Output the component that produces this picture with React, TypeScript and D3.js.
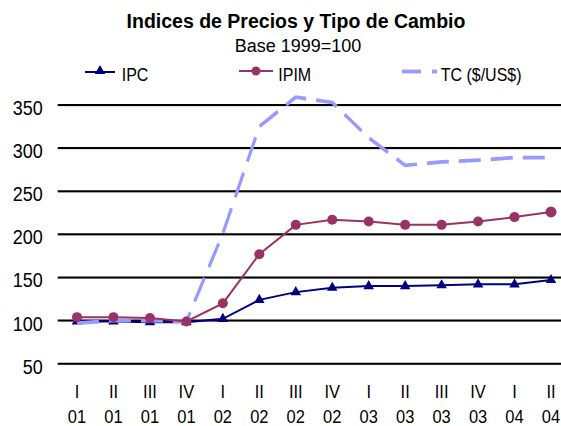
import React from "react";
import * as d3 from "d3";

const quarters = ["I", "II", "III", "IV", "I", "II", "III", "IV", "I", "II", "III", "IV", "I", "II"];
const years = ["01", "01", "01", "01", "02", "02", "02", "02", "03", "03", "03", "03", "04", "04"];
const ipc = [99, 99, 98, 98, 102, 124, 133, 138, 140, 140, 141, 142, 142, 147];
const ipim = [104, 104, 103, 99, 120, 177, 211, 217, 215, 211, 211, 215, 220, 226];
const tc = [97, 100, 100, 99, 201, 325, 359, 353, 312, 280, 284, 286, 289, 289];
const yTicks = [50, 100, 150, 200, 250, 300, 350];

const W = 561;
const H = 426;
const FONT = "'Liberation Sans', Arial, sans-serif";
const NAVY = "#000080";
const PLUM = "#993366";
const LAV = "#9999FF";

export default function App() {
  const idx = quarters.map((_, i) => i);
  const x = d3.scalePoint<number>().domain(idx).range([77, 551]);
  const y = d3.scaleLinear().domain([50, 350]).range([363.7, 105]);
  const k = 1.2;
  const yk = d3.scaleLinear().domain([50, 350]).range([363.7 / k, 105 / k]);

  const line = (vals: number[]) =>
    d3.line<number>().x((_, i) => x(i)!).y((v) => y(v))(vals) || "";
  const lineK = d3.line<number>().x((_, i) => x(i)!).y((v) => yk(v))(tc) || "";

  const tri = d3.symbol().type(d3.symbolTriangle).size(48)() || "";

  return (
    <svg width={W} height={H} style={{ position: "absolute", left: 0, top: 0, background: "#fff" }}>
      <text x={296} y={28.3} textAnchor="middle" fontFamily={FONT} fontWeight="bold" fontSize={19.5} fill="#000">
        Indices de Precios y Tipo de Cambio
      </text>
      <text x={298} y={51.7} textAnchor="middle" fontFamily={FONT} fontSize={18} fill="#000">
        Base 1999=100
      </text>

      {/* legend */}
      <line x1={85} x2={115} y1={72} y2={72} stroke={NAVY} strokeWidth={2} />
      <path d={tri} transform="translate(100,71)" fill={NAVY} />
      <text transform="translate(121.7,80.7) scale(1,1.14)" fontFamily={FONT} fontSize={16} fill="#000">IPC</text>
      <line x1={239} x2={273} y1={71} y2={71} stroke={PLUM} strokeWidth={2} />
      <circle cx={256} cy={71} r={4.5} fill={PLUM} />
      <text transform="translate(278.3,80.7) scale(1,1.14)" fontFamily={FONT} fontSize={16} fill="#000">IPIM</text>
      <line x1={402} x2={421} y1={71.5} y2={71.5} stroke={LAV} strokeWidth={3.8} />
      <line x1={432} x2={437} y1={71.5} y2={71.5} stroke={LAV} strokeWidth={3.8} />
      <text transform="translate(440.7,80.7) scale(1,1.14)" fontFamily={FONT} fontSize={16} fill="#000">TC ($/US$)</text>

      {/* gridlines and y labels */}
      {yTicks.map((t) => (
        <g key={t}>
          <line x1={57.7} x2={W} y1={y(t) + 1} y2={y(t) + 1} stroke="#c8c8c8" strokeWidth={1} />
          <line x1={57.7} x2={W} y1={y(t)} y2={y(t)} stroke="#000" strokeWidth={2} />
          <text
            transform={`translate(42.7,${y(t) + 10}) scale(1,1.15)`}
            textAnchor="end"
            fontFamily={FONT}
            fontSize={18}
            fill="#000"
          >
            {t}
          </text>
        </g>
      ))}

      {/* x labels */}
      {idx.map((i) => (
        <g key={i}>
          <text transform={`translate(${x(i)},398) scale(1,1.1)`} textAnchor="middle" fontFamily={FONT} fontSize={16.5} fill="#000">
            {quarters[i]}
          </text>
          <text transform={`translate(${x(i)},423) scale(1,1.1)`} textAnchor="middle" fontFamily={FONT} fontSize={16.5} fill="#000">
            {years[i]}
          </text>
        </g>
      ))}

      {/* IPC */}
      <path d={line(ipc)} fill="none" stroke={NAVY} strokeWidth={2} />
      {ipc.map((v, i) => (
        <path key={i} d={tri} transform={`translate(${x(i)},${y(v)})`} fill={NAVY} />
      ))}

      {/* TC (drawn in a vertically stretched frame) */}
      <g transform={`scale(1,${k})`}>
        <path d={lineK} fill="none" stroke={LAV} strokeWidth={3.1} strokeDasharray="22 10" strokeLinejoin="miter" />
      </g>

      {/* IPIM */}
      <path d={line(ipim)} fill="none" stroke={PLUM} strokeWidth={2} />
      {ipim.map((v, i) => (
        <circle key={i} cx={x(i)} cy={y(v)} r={i === ipim.length - 1 ? 5.5 : 5} fill={PLUM} />
      ))}
    </svg>
  );
}
